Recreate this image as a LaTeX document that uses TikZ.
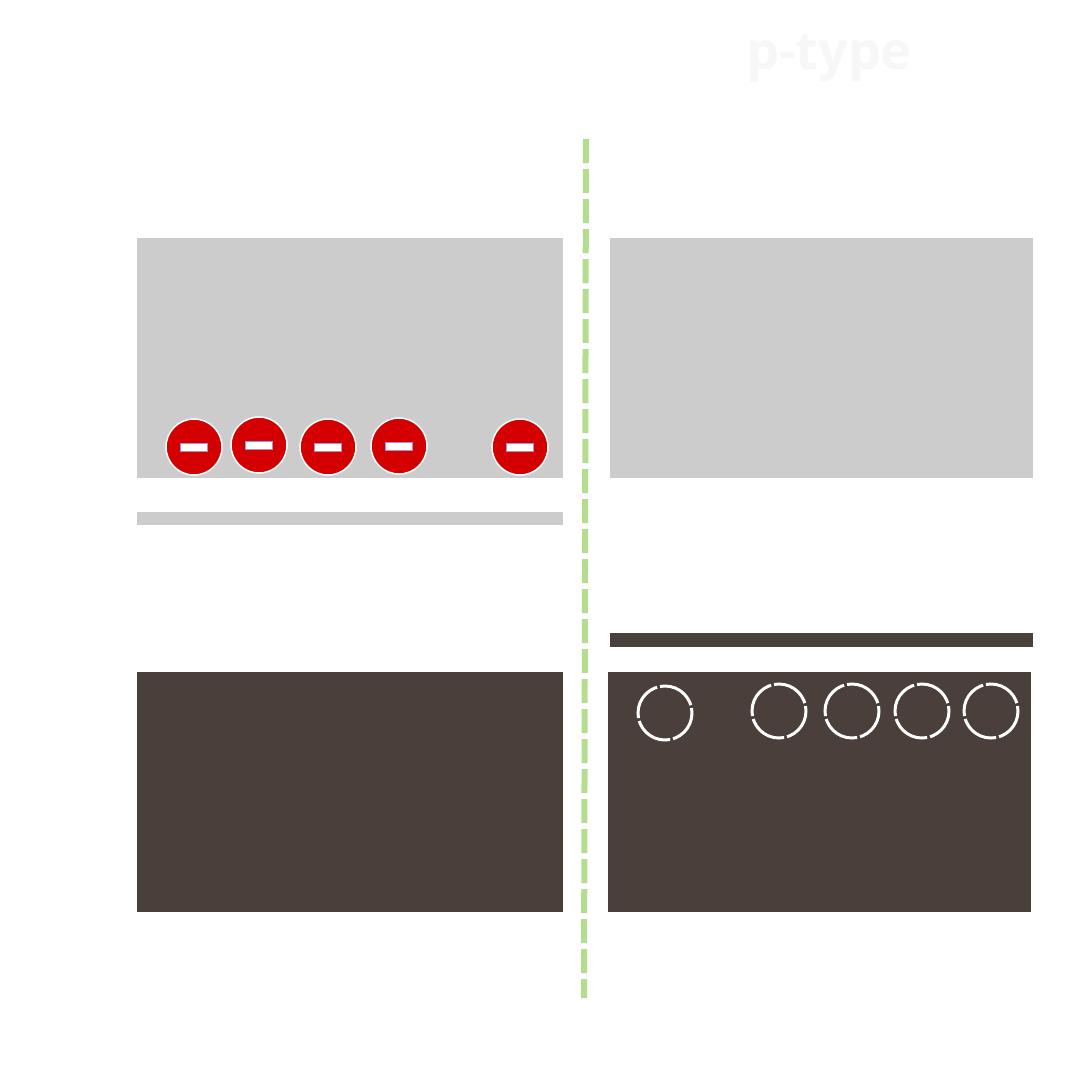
\documentclass[tikz,border=0pt]{standalone}
\usepackage{fontspec}
\setmainfont{Open Sans}
\definecolor{lightgray}{HTML}{CCCCCC}
\definecolor{darkbrown}{HTML}{4A3F3A}
\definecolor{dashgreen}{HTML}{B5DD8F}
\definecolor{ionred}{HTML}{D40000}
\definecolor{minusedge}{HTML}{A890D0}
\definecolor{faint}{HTML}{F7F7F7}
\tikzset{
  lightblock/.style={fill=lightgray, draw=none},
  darkblock/.style={fill=darkbrown, draw=none},
  ion/.style={circle, fill=ionred, draw=white, line width=1.5pt, minimum size=56pt, inner sep=0pt},
  minusbar/.style={rectangle, fill=white, draw=minusedge, line width=0.5pt, minimum width=27pt, minimum height=8pt, inner sep=0pt},
  hole/.style={draw=white, line width=3pt, dash pattern=on 39.4pt off 3pt, dash phase=-8pt},
  junction/.style={draw=dashgreen, line width=6pt, dash pattern=on 24pt off 6pt}
}
\begin{document}
\begin{tikzpicture}[x=1pt,y=-1pt]
\useasboundingbox[fill=white] (0,0) rectangle (1080,1080);
% blocks
\path[lightblock] (137,238) rectangle (563,478);
\path[lightblock] (610,238) rectangle (1033,478);
\path[lightblock] (137,512) rectangle (563,525);
\path[darkblock] (610,633) rectangle (1033,647);
\path[darkblock] (137,672) rectangle (563,912);
\path[darkblock] (608,672) rectangle (1031,912);
% junction line
\coordinate (jtop) at (586,139);
\coordinate (jbot) at (584,998);
\draw[junction] (jtop) -- (jbot);
% ions
\foreach \n/\x/\y in {a/194/447, b/259/445, c/328/447, d/399/446, e/520/447}{
  \node[ion] (ion\n) at (\x,\y) {};
  \node[minusbar] (bar\n) at (ion\n.center) {};
}
% holes
\foreach \n/\x/\y in {a/665/713, b/779/711, c/852/711, d/922/711, e/991/711}{
  \coordinate (hole\n) at (\x,\y);
  \draw[hole] (hole\n) circle[radius=27pt];
}
% label
\node[text=faint, font=\bfseries\fontsize{52}{56}\selectfont, anchor=base west, inner sep=0pt] (ptype) at (746,69) {p-type};
\end{tikzpicture}
\end{document}
